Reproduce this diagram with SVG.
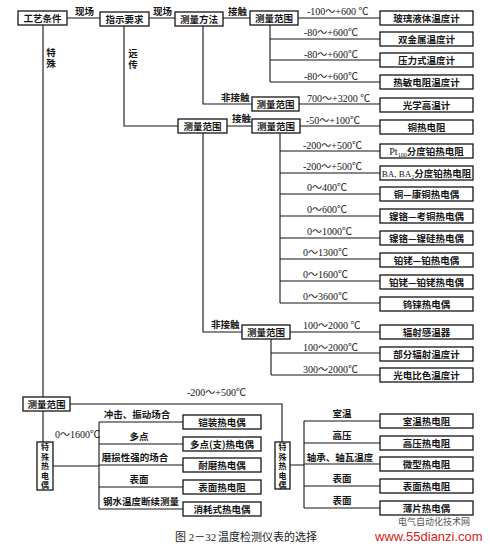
<svg xmlns="http://www.w3.org/2000/svg" width="490" height="546" viewBox="0 0 490 546">
<style>
.b{fill:#fff;stroke:#151515;stroke-width:1.3}
.l{fill:none;stroke:#151515;stroke-width:1.1}
.t{font-family:"Noto Sans CJK SC","Noto Sans CJK JP",sans-serif;font-size:9.5px;font-weight:bold;fill:#151515;text-anchor:middle}
.s{font-family:"Noto Sans CJK SC","Noto Sans CJK JP",sans-serif;font-size:9.5px;font-weight:bold;fill:#151515}
.vt{font-family:"Noto Sans CJK SC","Noto Sans CJK JP",sans-serif;font-size:9.5px;font-weight:bold;fill:#151515;writing-mode:vertical-rl;letter-spacing:1.5px}
.n{font-family:"Liberation Serif","Noto Sans CJK SC",serif;font-size:10px;fill:#151515}
.v{font-family:"Noto Sans CJK SC","Noto Sans CJK JP",sans-serif;font-size:8px;font-weight:bold;fill:#151515;text-anchor:middle}
</style>
<rect width="490" height="546" fill="#fff"/>
<g id="connectors">
<path class="l" d="M67,18H100M149,18H175M223,18H250M298,18H380"/>
<path class="l" d="M270,25V82M270,39H380M270,60H380M270,82H380"/>
<path class="l" d="M203,26V104H252M299,104H380"/>
<path class="l" d="M124,26V126H178M227,126H252M300,126H380"/>
<path class="l" d="M280,133V303M280,151H380M280,173H380M280,194H380M280,216H380M280,238H380M280,259H380M280,281H380M280,303H380"/>
<path class="l" d="M203,133V332H242M290,332H380M271,339V375M271,353H380M271,375H380"/>
<path class="l" d="M43,25V397M70,404H282V442M43,411V442"/>
<path class="l" d="M53,466H99M99,422V509M99,422H183M99,444H183M99,465H183M99,487H183M99,509H183"/>
<path class="l" d="M290,465H304M304,421V508M304,421H380M304,443H380M304,464H380M304,486H380M304,508H380"/>
<text class="s" x="75" y="15">现场</text>
<text class="s" x="153" y="15">现场</text>
<text class="s" x="228" y="15">接触</text>
<text class="vt" x="51" y="48">特殊</text>
<text class="vt" x="133" y="49">远传</text>
<text class="s" x="221" y="101">非接触</text>
<text class="s" x="232" y="122">接触</text>
<text class="s" x="211" y="328">非接触</text>
<text class="n" x="307" y="15">-100～+600 ℃</text>
<text class="n" x="304" y="36">-80～+600℃</text>
<text class="n" x="304" y="58">-80～+600℃</text>
<text class="n" x="304" y="80">-80～+600℃</text>
<text class="n" x="307" y="102">700～+3200 ℃</text>
<text class="n" x="306" y="124">-50～+100℃</text>
<text class="n" x="303" y="149">-200～+500℃</text>
<text class="n" x="303" y="170">-200～+500℃</text>
<text class="n" x="307" y="191">0～400℃</text>
<text class="n" x="307" y="213">0～600℃</text>
<text class="n" x="307" y="235">0～1000℃</text>
<text class="n" x="303" y="256">0～1300℃</text>
<text class="n" x="303" y="278">0～1600℃</text>
<text class="n" x="303" y="300">0～3600℃</text>
<text class="n" x="303" y="329">100～2000 ℃</text>
<text class="n" x="303" y="351">100～2000℃</text>
<text class="n" x="303" y="373">300～2000℃</text>
<text class="n" x="187" y="396">-200～+500℃</text>
<text class="n" x="55" y="438">0～1600℃</text>
<text class="t" x="137" y="418">冲击、振动场合</text>
<text class="t" x="139" y="440">多点</text>
<text class="t" x="135" y="461">磨损性强的场合</text>
<text class="t" x="139" y="483">表面</text>
<text class="t" x="141" y="505">钢水温度断续测量</text>
<text class="t" x="342" y="417">室温</text>
<text class="t" x="342" y="439">高压</text>
<text class="t" x="340" y="461">轴承、轴瓦温度</text>
<text class="t" x="342" y="482">表面</text>
<text class="t" x="342" y="504">表面</text>
</g>
<g id="n-gongyi"><rect class="b" x="18" y="11" width="49" height="14"/><text class="t" x="42.5" y="21.5">工艺条件</text></g>
<g id="n-zhishi"><rect class="b" x="100" y="12" width="49" height="14"/><text class="t" x="124.5" y="22.5">指示要求</text></g>
<g id="n-fangfa"><rect class="b" x="175" y="12" width="48" height="14"/><text class="t" x="199" y="22.5">测量方法</text></g>
<g id="n-fw1"><rect class="b" x="250" y="11" width="48" height="14"/><text class="t" x="274" y="21.5">测量范围</text></g>
<g id="n-fw2"><rect class="b" x="252" y="97" width="47" height="14"/><text class="t" x="275.5" y="107.5">测量范围</text></g>
<g id="n-fw3"><rect class="b" x="178" y="119" width="49" height="14"/><text class="t" x="202.5" y="129.5">测量范围</text></g>
<g id="n-fw4"><rect class="b" x="252" y="119" width="48" height="14"/><text class="t" x="276" y="129.5">测量范围</text></g>
<g id="n-fw5"><rect class="b" x="242" y="325" width="48" height="14"/><text class="t" x="266" y="335.5">测量范围</text></g>
<g id="n-fw6"><rect class="b" x="23" y="397" width="47" height="14"/><text class="t" x="46.5" y="407.5">测量范围</text></g>
<g id="n-r1"><rect class="b" x="380" y="11" width="93" height="14"/><text class="t" x="426.5" y="21.5">玻璃液体温度计</text></g>
<g id="n-r2"><rect class="b" x="380" y="32" width="93" height="14"/><text class="t" x="426.5" y="42.5">双金属温度计</text></g>
<g id="n-r3"><rect class="b" x="380" y="53" width="93" height="14"/><text class="t" x="426.5" y="63.5">压力式温度计</text></g>
<g id="n-r4"><rect class="b" x="380" y="75" width="93" height="14"/><text class="t" x="426.5" y="85.5">热敏电阻温度计</text></g>
<g id="n-r5"><rect class="b" x="380" y="98" width="93" height="14"/><text class="t" x="426.5" y="108.5">光学高温计</text></g>
<g id="n-r6"><rect class="b" x="380" y="120" width="93" height="14"/><text class="t" x="426.5" y="130.5">铜热电阻</text></g>
<g id="n-r7"><rect class="b" x="380" y="144" width="93" height="14"/><text class="t" x="426.5" y="154.5"><tspan font-family="Liberation Serif" font-weight="normal" font-size="10">Pt</tspan><tspan font-family="Liberation Serif" font-weight="normal" font-size="6" dy="2">100</tspan><tspan dy="-2">分度铂热电阻</tspan></text></g>
<g id="n-r8"><rect class="b" x="380" y="166" width="93" height="14"/><text class="t" x="426.5" y="176.5" font-size="8.5"><tspan font-family="Liberation Serif" font-weight="normal" font-size="9">BA, BA</tspan><tspan font-family="Liberation Serif" font-weight="normal" font-size="5.5" dy="2">2</tspan><tspan dy="-2">分度铂热电阻</tspan></text></g>
<g id="n-r9"><rect class="b" x="380" y="187" width="93" height="14"/><text class="t" x="426.5" y="197.5">铜—康铜热电偶</text></g>
<g id="n-r10"><rect class="b" x="380" y="209" width="93" height="14"/><text class="t" x="426.5" y="219.5">镍铬—考铜热电偶</text></g>
<g id="n-r11"><rect class="b" x="380" y="231" width="93" height="14"/><text class="t" x="426.5" y="241.5">镍铬—镍硅热电偶</text></g>
<g id="n-r12"><rect class="b" x="380" y="253" width="93" height="14"/><text class="t" x="426.5" y="263.5">铂铑—铂热电偶</text></g>
<g id="n-r13"><rect class="b" x="380" y="275" width="93" height="14"/><text class="t" x="426.5" y="285.5">铂铑—铂铑热电偶</text></g>
<g id="n-r14"><rect class="b" x="380" y="297" width="93" height="14"/><text class="t" x="426.5" y="307.5">钨铼热电偶</text></g>
<g id="n-r15"><rect class="b" x="380" y="325" width="93" height="14"/><text class="t" x="426.5" y="335.5">辐射感温器</text></g>
<g id="n-r16"><rect class="b" x="380" y="347" width="93" height="14"/><text class="t" x="426.5" y="357.5">部分辐射温度计</text></g>
<g id="n-r17"><rect class="b" x="380" y="368" width="93" height="14"/><text class="t" x="426.5" y="378.5">光电比色温度计</text></g>
<g id="n-tsL"><rect class="b" x="37" y="442" width="16" height="48"/><text class="v" x="45" y="450">特</text><text class="v" x="45" y="459.5">殊</text><text class="v" x="45" y="469">热</text><text class="v" x="45" y="478.5">电</text><text class="v" x="45" y="488">偶</text></g>
<g id="n-tsR"><rect class="b" x="275" y="442" width="15" height="47"/><text class="v" x="282.5" y="450">特</text><text class="v" x="282.5" y="459.5">殊</text><text class="v" x="282.5" y="469">热</text><text class="v" x="282.5" y="478.5">电</text><text class="v" x="282.5" y="488">偶</text></g>
<g id="n-l1"><rect class="b" x="183" y="415" width="78" height="14"/><text class="t" x="222" y="425.5">铠装热电偶</text></g>
<g id="n-l2"><rect class="b" x="183" y="437" width="78" height="14"/><text class="t" x="222" y="447.5">多点(支)热电偶</text></g>
<g id="n-l3"><rect class="b" x="183" y="458" width="78" height="14"/><text class="t" x="222" y="468.5">耐磨热电偶</text></g>
<g id="n-l4"><rect class="b" x="183" y="480" width="78" height="14"/><text class="t" x="222" y="490.5">表面热电阻</text></g>
<g id="n-l5"><rect class="b" x="183" y="502" width="78" height="14"/><text class="t" x="222" y="512.5">消耗式热电偶</text></g>
<g id="n-s1"><rect class="b" x="380" y="414" width="93" height="14"/><text class="t" x="426.5" y="424.5">室温热电阻</text></g>
<g id="n-s2"><rect class="b" x="380" y="436" width="93" height="14"/><text class="t" x="426.5" y="446.5">高压热电阻</text></g>
<g id="n-s3"><rect class="b" x="380" y="457" width="93" height="14"/><text class="t" x="426.5" y="467.5">微型热电阻</text></g>
<g id="n-s4"><rect class="b" x="380" y="479" width="93" height="14"/><text class="t" x="426.5" y="489.5">表面热电阻</text></g>
<g id="n-s5"><rect class="b" x="380" y="501" width="93" height="14"/><text class="t" x="426.5" y="511.5">薄片热电偶</text></g>
<g id="caption">
<text x="175" y="541" font-family="Liberation Serif,'Noto Sans CJK SC',serif" font-size="11" fill="#222">图 2－32</text>
<text x="218" y="541" font-family="'Noto Sans CJK SC',sans-serif" font-size="11" fill="#222">温度检测仪表的选择</text>
</g>
<g id="watermark">
<text x="398" y="525" font-family="'Noto Sans CJK SC',sans-serif" font-size="9" fill="#555">电气自动化技术网</text>
<text x="375" y="541" font-family="'Liberation Sans',Arial,sans-serif" font-size="13" fill="#d42020">www.55dianzi.com</text>
</g>
</svg>
